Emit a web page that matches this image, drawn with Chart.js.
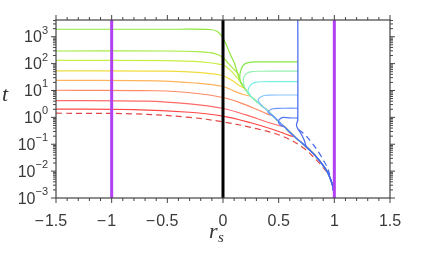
<!DOCTYPE html>
<html>
<head>
<meta charset="utf-8">
<script src="https://cdn.jsdelivr.net/npm/chart.js@4"></script>
<style>
  html, body { margin: 0; padding: 0; background: #fff; }
</style>
</head>
<body>
<canvas id="chart" width="431" height="266"></canvas>
<script>
// axis ticks
const xTickValues = [-1.5, -1, -0.5, 0, 0.5, 1, 1.5]
const xTickLabels = ["\u22121.5", "\u22121", "\u22120.5", "0", "0.5", "1", "1.5"]
const yTickValues = [1e-3, 1e-2, 1e-1, 1, 10, 100, 1000]
const yTickExponents = ["\u22123", "\u22122", "\u22121", "0", "1", "2", "3"]
const yMin = 1e-3
const yMax = 4200

// vertical markers (r_s = -1, 0, 1)
const purpleLinesX = [-1, 1]
const blackLineX = [0]

// common curve all trajectories fall onto (r_s, t)
const envR = [0.10, 0.13, 0.16, 0.20, 0.25, 0.30, 0.35, 0.40, 0.45, 0.50, 0.55, 0.60, 0.65, 0.70, 0.75, 0.80, 0.85, 0.90, 0.94, 0.97, 0.985, 0.995, 1.0]
const envT = [112, 44.7, 20, 11.2, 6.0, 4.0, 2.7, 1.78, 1.12, 0.71, 0.45, 0.28, 0.18, 0.12, 0.079, 0.05, 0.03, 0.016, 0.0089, 0.0045, 0.0028, 0.0016, 0.001]

// curves coming from the left
const rL1 = [-1.5, -0.4, -0.12, -0.05, 0, 0.03, 0.06, 0.08]
const tL1 = [1900, 1900, 1860, 1580, 890, 500, 250, 165]
const rL2 = [-1.5, -0.5, -0.2, -0.08, 0, 0.05, 0.1]
const tL2 = [295, 295, 275, 240, 170, 100, 60]
const rL3 = [-1.5, -0.5, -0.2, 0, 0.06, 0.12]
const tL3 = [132, 129, 117, 89, 60, 32]
const rL4 = [-1.5, -0.5, -0.2, 0, 0.08, 0.15]
const tL4 = [54, 52.5, 46, 35.5, 24, 15]
const rL5 = [-1.5, -0.6, -0.25, 0, 0.1, 0.18]
const tL5 = [24, 23, 19, 14.1, 9.5, 7.1]
const rL6 = [-1.5, -0.6, -0.25, 0, 0.15, 0.3, 0.4]
const tL6 = [10.2, 9.8, 7.9, 5.5, 3.55, 2.0, 1.32]
const rL7 = [-1.5, -0.7, -0.3, 0, 0.2, 0.4, 0.5]
const tL7 = [4.2, 4.0, 3.16, 2.14, 1.26, 0.66, 0.5]
const rL8 = [-1.5, -0.8, -0.3, 0, 0.25, 0.45, 0.6]
const tL8 = [2.04, 1.95, 1.55, 1.12, 0.63, 0.355, 0.21]
const rL9 = [-1.5, -0.8, -0.3, 0, 0.3, 0.54, 0.72, 0.87, 0.95]
const tL9 = [1.43, 1.35, 1.0, 0.68, 0.38, 0.195, 0.074, 0.019, 0.0071]

// curves starting at r_s = 0.672
const rH1 = [0.672, 0.45, 0.3, 0.24, 0.2, 0.175, 0.16, 0.15]
const tH1 = [117, 117, 116, 112, 100, 79, 56, 32]
const rH2 = [0.672, 0.45, 0.32, 0.26, 0.22, 0.195, 0.182]
const tH2 = [52.5, 52.5, 52, 50, 44.7, 35.5, 25]
const rH3 = [0.672, 0.45, 0.36, 0.3, 0.26, 0.235, 0.225]
const tH3 = [21.4, 21.4, 21.2, 20.4, 17.8, 13.2, 9.5]
const rH4 = [0.672, 0.5, 0.42, 0.37, 0.335, 0.315]
const tH4 = [6.8, 6.8, 6.7, 6.5, 5.6, 4.5]
const rH5 = [0.672, 0.55, 0.5, 0.45, 0.42, 0.405]
const tH5 = [2.19, 2.19, 2.17, 2.09, 1.86, 1.51]
const rH6 = [0.672, 0.6, 0.54, 0.505, 0.5, 0.52]
const tH6 = [0.95, 0.95, 1.0, 0.83, 0.63, 0.5]
const rV = [0.672, 0.672, 0.665, 0.66, 0.672, 0.7, 0.73]
const tV = [4200, 0.79, 0.63, 0.5, 0.38, 0.25, 0.14]
const rBD = [0.68, 0.74, 0.8, 0.86, 0.9, 0.94]
const tBD = [0.35, 0.22, 0.11, 0.05, 0.026, 0.013]

const curves = [
    { r: rL1, t: tL1, join: 0.10, color: "#8ee63c" },
    { r: rL2, t: tL2, join: 0.13, color: "#a4ea3e" },
    { r: rL3, t: tL3, join: 0.16, color: "#c9ee44" },
    { r: rL4, t: tL4, join: 0.20, color: "#f0dc40" },
    { r: rL5, t: tL5, join: 0.25, color: "#ffb35c" },
    { r: rL6, t: tL6, join: 0.45, color: "#ff8a66" },
    { r: rL7, t: tL7, join: 0.55, color: "#ff6a6a" },
    { r: rL8, t: tL8, join: 0.65, color: "#ff4848" },
    { r: rL9, t: tL9, join: 0.97, color: "#e04848", dash: [6, 4] },
    { r: rH1, t: tH1, join: 0.16, color: "#86e848" },
    { r: rH2, t: tH2, join: 0.20, color: "#96f0b4" },
    { r: rH3, t: tH3, join: 0.25, color: "#78eee6" },
    { r: rH4, t: tH4, join: 0.35, color: "#88c4ff" },
    { r: rH5, t: tH5, join: 0.45, color: "#6a94ff" },
    { r: rH6, t: tH6, join: 0.55, color: "#5076f2" },
    { r: rV, t: tV, join: 0.75, color: "#4466ee" },
    { r: rBD, t: tBD, join: 0.97, color: "#4466ee", dash: [6, 4] }
]

function curvePoints(c) {
    const pts = c.r.map((x, i) => ({ x: x, y: c.t[i] }))
    envR.forEach((x, i) => {
        if (x >= c.join - 1e-9) pts.push({ x: x, y: envT[i] })
    })
    return pts
}

const datasets = curves.map((c, i) => ({
    data: curvePoints(c),
    borderColor: c.color,
    borderWidth: 1.2,
    borderDash: c.dash || [],
    showLine: true,
    pointRadius: 0,
    tension: 0.35,
    order: curves.length - i + 1
}))

purpleLinesX.forEach(x => datasets.push({
    data: [{ x: x, y: yMin }, { x: x, y: yMax }],
    borderColor: "#b040f2",
    borderWidth: 3,
    showLine: true,
    pointRadius: 0,
    order: 0
}))
blackLineX.forEach(x => datasets.push({
    data: [{ x: x, y: yMin }, { x: x, y: yMax }],
    borderColor: "#000",
    borderWidth: 3,
    showLine: true,
    pointRadius: 0,
    order: 0
}))

// frame, ticks and labels drawn from the chart's own scales
const axesPlugin = {
    id: "axesPlugin",
    afterDraw(chart) {
        const ctx = chart.ctx
        const xs = chart.scales.x
        const ys = chart.scales.y
        const ca = chart.chartArea
        ctx.save()
        ctx.strokeStyle = "#444"
        ctx.lineWidth = 1.2
        ctx.strokeRect(ca.left, ca.top, ca.right - ca.left, ca.bottom - ca.top)

        const line = (x1, y1, x2, y2) => {
            ctx.beginPath(); ctx.moveTo(x1, y1); ctx.lineTo(x2, y2); ctx.stroke()
        }
        ctx.lineWidth = 1
        for (let k = -15; k <= 15; k++) {
            const px = xs.getPixelForValue(k / 10)
            const len = k % 5 === 0 ? 5 : 3
            line(px, ca.bottom, px, ca.bottom + len)
            line(px, ca.top, px, ca.top - len)
        }
        for (let e = -3; e <= 3; e++) {
            for (let m = 1; m <= 9; m++) {
                const v = m * Math.pow(10, e)
                if (v > ys.max) break
                const py = ys.getPixelForValue(v)
                const len = m === 1 ? 5 : 3
                line(ca.left - len, py, ca.left, py)
                line(ca.right, py, ca.right + len, py)
            }
        }

        ctx.fillStyle = "#3a3a3a"
        ctx.textBaseline = "alphabetic"
        ctx.font = '16px "Liberation Sans", Arial, sans-serif'
        xTickValues.forEach((v, i) => {
            const px = xs.getPixelForValue(v)
            const label = xTickLabels[i]
            const neg = label.startsWith("\u2212")
            const digits = neg ? label.slice(1) : label
            ctx.textAlign = "center"
            ctx.fillText(digits, px, 226)
            if (neg) {
                const w = ctx.measureText(digits).width
                ctx.textAlign = "right"
                ctx.fillText("\u2212", px - w / 2 - 1, 226)
            }
        })

        yTickValues.forEach((v, i) => {
            const py = ys.getPixelForValue(v)
            ctx.font = '11px "Liberation Sans", Arial, sans-serif'
            const expW = ctx.measureText(yTickExponents[i]).width
            ctx.textAlign = "left"
            ctx.fillText(yTickExponents[i], 48 - expW, py - 3)
            ctx.font = '16px "Liberation Sans", Arial, sans-serif'
            ctx.textAlign = "right"
            ctx.fillText("10", 48 - expW, py + 5.7)
        })

        ctx.fillStyle = "#333"
        ctx.textAlign = "left"
        ctx.font = 'italic 22px "Liberation Serif", "DejaVu Serif", serif'
        ctx.fillText("t", 2, 101)
        ctx.fillText("r", 209, 238)
        ctx.font = 'italic 15px "Liberation Serif", "DejaVu Serif", serif'
        ctx.fillText("s", 218, 242)
        ctx.restore()
    }
}

new Chart(document.getElementById("chart"), {
    type: "scatter",
    data: { datasets: datasets },
    plugins: [axesPlugin],
    options: {
        responsive: false,
        devicePixelRatio: 1,
        animation: false,
        layout: { padding: { left: 56, right: 41, top: 20, bottom: 68 } },
        plugins: {
            legend: { display: false },
            tooltip: { enabled: false }
        },
        scales: {
            x: { type: "linear", min: -1.5, max: 1.5, display: false },
            y: { type: "logarithmic", min: yMin, max: yMax, display: false }
        }
    }
})
</script>
</body>
</html>
